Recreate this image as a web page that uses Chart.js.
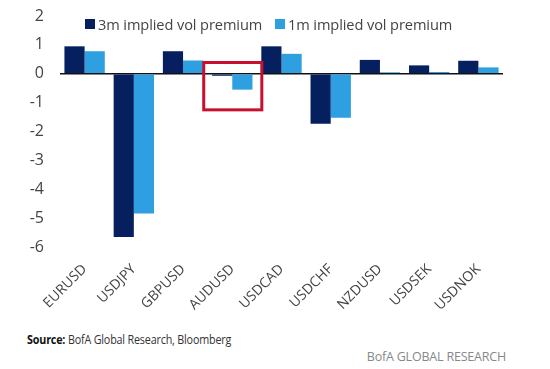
<!DOCTYPE html>
<html>
<head>
<meta charset="utf-8">
<script src="https://cdn.jsdelivr.net/npm/chart.js@4"></script>
<style>
  html, body { margin: 0; padding: 0; background: #fff; }
  body { width: 550px; height: 369px; position: relative; overflow: hidden; font-family: "Open Sans", "Liberation Sans", sans-serif; }
  #wrap { position: absolute; left: 0; top: 0; width: 550px; height: 322px; }
  .legend { position: absolute; top: 14px; font-size: 14.6px; color: #444; white-space: nowrap; display: flex; align-items: center; letter-spacing: -0.1px; }
  .legend i { display: inline-block; width: 10px; height: 10px; margin-right: 3px; }
  #source { position: absolute; left: 27px; top: 331px; font-size: 12.5px; color: #333; letter-spacing: -0.2px; transform: scaleX(0.86); transform-origin: left center; white-space: nowrap; }
  #source b { color: #111; }
  #brand { position: absolute; right: 44px; top: 348px; font-size: 12.5px; color: #888; letter-spacing: -0.2px; }
</style>
</head>
<body>
<div id="wrap"><canvas id="c"></canvas></div>
<div class="legend" id="lg1" style="left:85px"><i style="background:#06205f"></i><span id="l1"></span></div>
<div class="legend" id="lg2" style="left:275px"><i style="background:#2e9fe0"></i><span id="l2"></span></div>
<div id="source"><b>Source:</b> BofA Global Research, Bloomberg</div>
<div id="brand">BofA GLOBAL RESEARCH</div>
<script>
const categories = ["EURUSD", "USDJPY", "GBPUSD", "AUDUSD", "USDCAD", "USDCHF", "NZDUSD", "USDSEK", "USDNOK"];
const seriesNames = ["3m implied vol premium", "1m implied vol premium"];
const vol3m = [0.95, -5.65, 0.78, -0.07, 0.95, -1.73, 0.48, 0.29, 0.45];
const vol1m = [0.78, -4.84, 0.46, -0.55, 0.69, -1.52, 0.05, 0.06, 0.22];
const yTicks = [2, 1, 0, -1, -2, -3, -4, -5, -6];
// highlight box around AUDUSD: category index and value range
const highlightIndex = 3;
const highlightRange = [0.39, -1.25];

document.getElementById('l1').textContent = seriesNames[0];
document.getElementById('l2').textContent = seriesNames[1];

const boxPlugin = {
  id: 'highlightBox',
  afterDatasetsDraw(chart) {
    const x = chart.scales.x, y = chart.scales.y;
    const cw = x.getPixelForValue(1) - x.getPixelForValue(0);
    const cx = x.getPixelForValue(highlightIndex);
    const ctx = chart.ctx;
    ctx.save();
    ctx.strokeStyle = '#c8102e';
    ctx.lineWidth = 3;
    const x0 = cx - cw * 0.58, x1 = cx + cw * 0.6;
    const y0 = y.getPixelForValue(highlightRange[0]), y1 = y.getPixelForValue(highlightRange[1]);
    ctx.strokeRect(x0, y0, x1 - x0, y1 - y0);
    ctx.restore();
  }
};

new Chart(document.getElementById('c'), {
  type: 'bar',
  data: {
    labels: categories,
    datasets: [
      { label: seriesNames[0], data: vol3m, backgroundColor: '#06205f', barPercentage: 1.0, categoryPercentage: 0.82 },
      { label: seriesNames[1], data: vol1m, backgroundColor: '#2e9fe0', barPercentage: 1.0, categoryPercentage: 0.82 }
    ]
  },
  options: {
    responsive: true,
    maintainAspectRatio: false,
    animation: false,
    layout: { padding: { top: 0, right: 47, left: 0, bottom: 0 } },
    plugins: { legend: { display: false }, tooltip: { enabled: false } },
    scales: {
      x: {
        grid: { display: false },
        border: { display: false },
        ticks: {
          minRotation: 45, maxRotation: 45, padding: 6,
          color: '#444',
          font: { family: "'Open Sans', sans-serif", size: 14 }
        },
        afterFit(s) { s.height = 75; }
      },
      y: {
        min: -6, max: 2,
        afterBuildTicks(s) { s.ticks = yTicks.map(v => ({ value: v })); },
        grid: {
          drawTicks: false,
          color: c => (c.tick && c.tick.value === 0) ? '#111' : 'rgba(0,0,0,0)',
          lineWidth: c => (c.tick && c.tick.value === 0) ? 1.5 : 0
        },
        border: { display: false },
        ticks: {
          padding: 16,
          color: '#444',
          font: { family: "'Open Sans', sans-serif", size: 16 }
        },
        afterFit(s) { s.width = 60; s.paddingTop = 16; s.paddingBottom = 10; }
      }
    }
  },
  plugins: [boxPlugin]
});
</script>
</body>
</html>
